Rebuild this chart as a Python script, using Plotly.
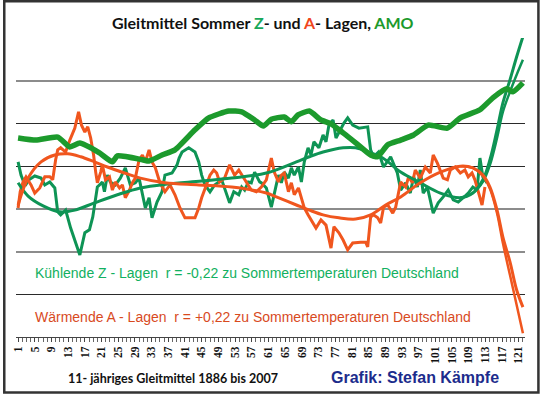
import plotly.graph_objects as go

# ---- data (x = year index 1..122, y = chart units, grid step 1) ----
amo_x = [1, 5.3, 10.5, 13.4, 15.8, 20.5, 23.6, 24.8, 30.8, 32.4, 35.5, 38.6, 43.4, 46.7, 51.5,
         54.6, 57.7, 59.8, 61.7, 64.8, 66.5, 68.1, 70.8, 73.6, 76.0, 78.9, 82.0, 85.5, 87.2,
         89.6, 92.7, 95.8, 99.3, 103.9, 107.0, 111.7, 114.8, 118.1, 119.6, 122]
amo_y = [4.66, 4.61, 4.68, 4.45, 4.54, 4.31, 4.10, 4.24, 4.15, 4.12, 4.26, 4.38, 4.85, 5.13, 5.29,
         5.27, 5.08, 4.94, 5.10, 5.15, 5.04, 5.20, 5.29, 5.08, 4.99, 4.78, 4.54, 4.26, 4.22,
         4.50, 4.61, 4.73, 4.96, 4.89, 5.13, 5.32, 5.60, 5.81, 5.74, 5.95]

z_x = [1.0, 1.7, 2.7, 3.6, 5.0, 6.5, 7.4, 8.6, 9.8, 10.5, 11.2, 12.4, 13.6, 14.6, 15.8, 17.0, 18.1,
       18.9, 19.6, 20.0, 20.5, 21.2, 21.7, 22.4, 23.1, 24.3, 25.5, 26.7, 27.9, 29.1, 30.0, 30.8,
       31.5, 32.4, 33.1, 34.3, 35.5, 36.2, 37.9, 39.1, 39.6, 40.3, 41.9, 43.4, 44.3, 45.0, 45.8,
       47.0, 48.1, 49.8, 50.5, 51.7, 52.7, 53.9, 54.6, 55.3, 56.2, 56.9, 57.7, 58.9, 59.3, 60.5,
       61.7, 62.4, 63.4, 64.1, 64.8, 65.8, 66.5, 67.2, 68.2, 68.9, 69.6, 70.5, 71.2, 71.9, 73.1,
       74.1, 74.8, 75.5, 76.5, 77.2, 78.4, 79.1, 80.0, 81.2, 82.7, 84.8, 85.5, 86.2, 87.4, 88.6,
       90.3, 91.9, 92.7, 93.9, 95.0, 95.8, 96.7, 97.4, 98.1, 99.1, 100.5, 101.7, 102.9, 104.1,
       105.3, 106.5, 107.7, 108.9, 110.0, 111.0, 111.7, 112.4, 113.4]
z_y = [4.10, 3.79, 3.54, 3.68, 3.77, 3.72, 3.56, 3.63, 3.49, 2.93, 2.86, 2.97, 2.55, 2.27, 1.92, 2.44, 2.51,
       2.81, 3.33, 3.51, 3.56, 3.63, 3.40, 3.79, 3.63, 3.56, 3.72, 3.96, 3.56, 3.61, 3.72, 3.33,
       3.02, 3.26, 2.79, 3.16, 3.40, 3.79, 3.84, 4.03, 4.19, 4.33, 4.43, 4.33, 4.10, 3.79, 3.56,
       3.40, 3.56, 3.68, 3.49, 3.14, 3.40, 3.33, 3.51, 3.44, 3.63, 3.61, 3.86, 3.63, 3.61, 3.49,
       3.04, 3.33, 3.79, 3.61, 3.86, 3.72, 3.96, 3.79, 3.98, 3.63, 4.10, 4.43, 4.26, 4.57, 4.43,
       4.73, 4.57, 4.96, 5.08, 4.66, 4.89, 5.01, 5.13, 4.96, 4.89, 4.92, 4.38, 4.22, 4.33, 3.98,
       4.22, 3.84, 3.44, 3.61, 3.37, 3.75, 3.51, 3.91, 3.37, 3.51, 2.90, 3.14, 3.28, 3.44,
       3.21, 3.16, 3.26, 3.37, 3.51, 3.44, 4.19, 3.75, 3.61]

zt_x = [1.0, 3.4, 7.0, 11.0, 14.6, 19.3, 24.8, 30.3, 36.7, 45.0, 52.2, 60.5, 67.7, 70.8, 74.1,
        78.9, 81.9, 85.0, 88.4, 92.7, 97.4, 102.2, 107.0, 110.0, 112.4, 114.1, 115.8, 117.2,
        118.9, 120.5, 122.0]
zt_y = [3.61, 3.30, 3.07, 2.93, 2.97, 3.14, 3.33, 3.49, 3.58, 3.65, 3.72, 3.84, 4.10, 4.22, 4.33,
        4.43, 4.43, 4.33, 4.19, 3.86, 3.61, 3.37, 3.26, 3.37, 3.68, 4.15, 4.85, 5.48,
        6.02, 6.56, 7.03]
zt2_x = [107.0, 110.0, 112.4, 114.1, 115.8, 117.2, 118.9, 120.5, 122.0]
zt2_y = [3.26, 3.37, 3.63, 4.03, 4.66, 5.27, 5.74, 6.14, 6.49]

a_x = [1.0, 1.5, 2.2, 2.9, 4.1, 5.0, 6.2, 7.4, 8.6, 9.3, 10.0, 10.5, 11.2, 12.4, 13.4, 14.6, 15.5,
       16.2, 17.0, 17.7, 18.4, 19.1, 19.6, 20.0, 20.8, 21.2, 21.95, 22.9, 23.6, 24.3, 25.3, 26.0,
       26.7, 27.7, 28.4, 29.1, 30.0, 30.8, 31.5, 32.4, 33.1, 33.9, 35.0, 36.2, 37.4, 38.6, 39.8,
       41.0, 43.4, 44.3, 45.0, 46.2, 47.0, 47.9, 48.6, 49.3, 50.5, 51.7, 52.9, 53.9, 54.6, 55.8,
       56.9, 58.1, 59.3, 60.5, 61.7, 62.4, 63.4, 64.1, 64.8, 65.8, 66.5, 67.2, 68.2, 68.9, 69.6,
       70.5, 71.2, 72.4, 73.6, 74.8, 76.0, 76.7, 77.9, 78.9, 80.0, 81.2, 83.1, 84.3, 84.8, 85.5,
       86.2, 87.2, 87.9, 88.6, 89.6, 90.8, 91.5, 92.2, 92.7, 93.9, 94.6, 95.5, 96.2, 97.4, 98.6,
       99.8, 100.5, 101.5, 102.2, 102.9, 103.9, 104.6, 105.8, 107.0, 108.1, 108.9, 109.8, 110.5,
       111.2, 112.2, 112.9]
a_y = [3.02, 3.40, 3.63, 3.75, 3.56, 3.37, 3.49, 3.75, 3.75, 3.68, 4.15, 4.38, 4.43, 4.33, 4.61, 4.89, 5.27,
       4.96, 4.80, 4.92, 4.66, 4.26, 3.86, 3.61, 3.86, 4.03, 3.68, 3.75, 3.44, 3.63, 3.49, 3.56,
       3.26, 3.44, 3.61, 3.72, 4.15, 4.26, 4.10, 4.38, 4.10, 3.96, 3.61, 3.40, 3.56, 3.33, 3.02,
       2.79, 2.79, 3.02, 3.26, 3.56, 3.79, 3.91, 3.84, 3.63, 3.72, 4.03, 3.79, 3.91, 3.79, 3.61,
       3.44, 3.40, 3.51, 3.68, 4.19, 3.86, 3.63, 3.79, 3.84, 3.40, 3.61, 3.33, 3.49, 3.26, 3.02,
       2.86, 2.74, 2.55, 2.74, 2.62, 2.08, 2.58, 2.44, 2.27, 2.04, 2.20, 2.22, 2.22, 2.11, 2.81,
       2.86, 2.79, 2.67, 3.04, 3.09, 2.90, 3.04, 3.44, 3.63, 3.51, 3.75, 3.61, 3.91, 3.72, 3.98,
       3.84, 4.26, 4.07, 3.91, 3.72, 3.68, 3.91, 3.98, 3.84, 3.91, 3.75, 3.84, 3.68,
       3.44, 3.09, 3.51]

at_x = [1.0, 3.4, 6.5, 9.8, 12.9, 16.0, 19.3, 22.4, 26.5, 30.3, 36.2, 44.3, 52.2, 60.5, 62.9, 67.7,
        70.8, 74.1, 77.9, 81.9, 85.5, 89.1, 92.7, 97.4, 102.2, 107.0, 110.0, 112.4, 114.1, 115.8,
        117.2, 118.9, 120.5, 122.0]
at_y = [3.09, 3.72, 4.10, 4.26, 4.29, 4.22, 4.10, 3.98, 3.84, 3.72, 3.61, 3.56, 3.51, 3.37, 3.28, 3.09,
        2.97, 2.86, 2.79, 2.76, 2.86, 3.09, 3.28, 3.61, 3.86, 4.00, 3.96, 3.79, 3.51, 2.97,
        2.34, 1.76, 1.10, 0.70]
at2_x = [107.0, 110.0, 112.4, 114.1, 115.8, 117.2, 118.9, 120.5, 122.0]
at2_y = [4.00, 3.96, 3.77, 3.47, 2.90, 2.20, 1.45, 0.75, 0.09]

tick_vals = list(range(1, 122, 4))
tick_text = ["<b>%d</b>" % v for v in tick_vals]

# ---- colours ----
C_AMO = "#1c9a2c"
C_Z = "#0e9455"
C_A = "#f0561e"

fig = go.Figure()
fig.add_trace(go.Scatter(x=amo_x, y=amo_y, mode="lines", yaxis="y2",
                         line=dict(color=C_AMO, width=5.5, shape="spline", smoothing=0.5)))
fig.add_trace(go.Scatter(x=z_x, y=z_y, mode="lines", line=dict(color=C_Z, width=3)))
fig.add_trace(go.Scatter(x=a_x, y=a_y, mode="lines", line=dict(color=C_A, width=3)))
fig.add_trace(go.Scatter(x=zt2_x, y=zt2_y, mode="lines",
                         line=dict(color=C_Z, width=2.5, shape="spline", smoothing=1)))
fig.add_trace(go.Scatter(x=zt_x, y=zt_y, mode="lines",
                         line=dict(color=C_Z, width=3, shape="spline", smoothing=1)))
fig.add_trace(go.Scatter(x=at2_x, y=at2_y, mode="lines",
                         line=dict(color=C_A, width=2.5, shape="spline", smoothing=1)))
fig.add_trace(go.Scatter(x=at_x, y=at_y, mode="lines",
                         line=dict(color=C_A, width=3, shape="spline", smoothing=1)))

L, R, T, B = 13, 15, 38, 57
W, H = 540, 394
pw, ph = W - L - R, H - T - B


def px(x):
    return (x - L) / pw


def py(y):
    return (H - B - y) / ph


annotations = [
    dict(x=px(261), y=py(22),
         text="<b>Gleitmittel Sommer <span style='color:#18a85a'>Z</span>- und "
              "<span style='color:#f0461c'>A</span>- Lagen, <span style='color:#1c9a2c'>AMO</span></b>",
         font=dict(family="Lato", size=16, color="#111")),
    dict(x=px(30), y=py(273), xanchor="left",
         text="Kühlende Z - Lagen  r = -0,22 zu Sommertemperaturen Deutschland",
         font=dict(family="Liberation Sans", size=14, color="#12b060")),
    dict(x=px(30), y=py(317), xanchor="left",
         text="Wärmende A - Lagen  r = +0,22 zu Sommertemperaturen Deutschland",
         font=dict(family="Liberation Sans", size=14, color="#d84a1e")),
    dict(x=px(63), y=py(378), xanchor="left",
         text="<b>11- jähriges Gleitmittel 1886 bis 2007</b>",
         font=dict(family="Lato", size=12.5, color="#111")),
    dict(x=px(328), y=py(377), xanchor="left",
         text="<b>Grafik: Stefan Kämpfe</b>",
         font=dict(family="Liberation Sans", size=16, color="#1c2c8c")),
]
for a in annotations:
    a["showarrow"] = False
    a["xref"] = "paper"
    a["yref"] = "paper"
    a.setdefault("xanchor", "center")
    a["yanchor"] = "middle"

fig.update_layout(
    width=W, height=H,
    margin=dict(l=L, r=R, t=T, b=B),
    paper_bgcolor="white", plot_bgcolor="white",
    showlegend=False,
    hovermode=False,
    annotations=annotations,
    xaxis=dict(range=[0.5, 122.5], tickmode="array", tickvals=tick_vals, ticktext=tick_text,
               tickangle=-90, ticks="outside", ticklen=4, tickcolor="#444",
               tickfont=dict(family="Liberation Serif", size=11.5, color="#111"),
               showgrid=False, zeroline=False, showline=True, linecolor="#444", linewidth=1,
               minor=dict(ticks="outside", ticklen=4, dtick=1, tick0=1, tickcolor="#666",
                          showgrid=False)),
    yaxis=dict(range=[0, 7], tickmode="array", tickvals=[1, 4, 5, 7], showticklabels=False,
               gridcolor="#2a2a2a", gridwidth=1, zeroline=False, showline=False, ticks=""),
    yaxis2=dict(range=[0, 7], overlaying="y", side="right", tickmode="array",
                tickvals=[2, 3, 6], showticklabels=False, gridcolor="#8c8c8c", gridwidth=2,
                zeroline=False, showline=False, ticks=""),
    shapes=[dict(type="rect", xref="paper", yref="paper",
                 x0=px(1.2), x1=px(538.5), y0=py(392.5), y1=py(1.2),
                 line=dict(color="#333", width=2.5), fillcolor="rgba(0,0,0,0)", layer="above")],
)

fig.write_html("out.html",
               config={"displayModeBar": False, "staticPlot": True},
               post_script="document.body.style.margin='0';document.body.style.padding='0';"
                           "document.documentElement.style.overflow='hidden';")
